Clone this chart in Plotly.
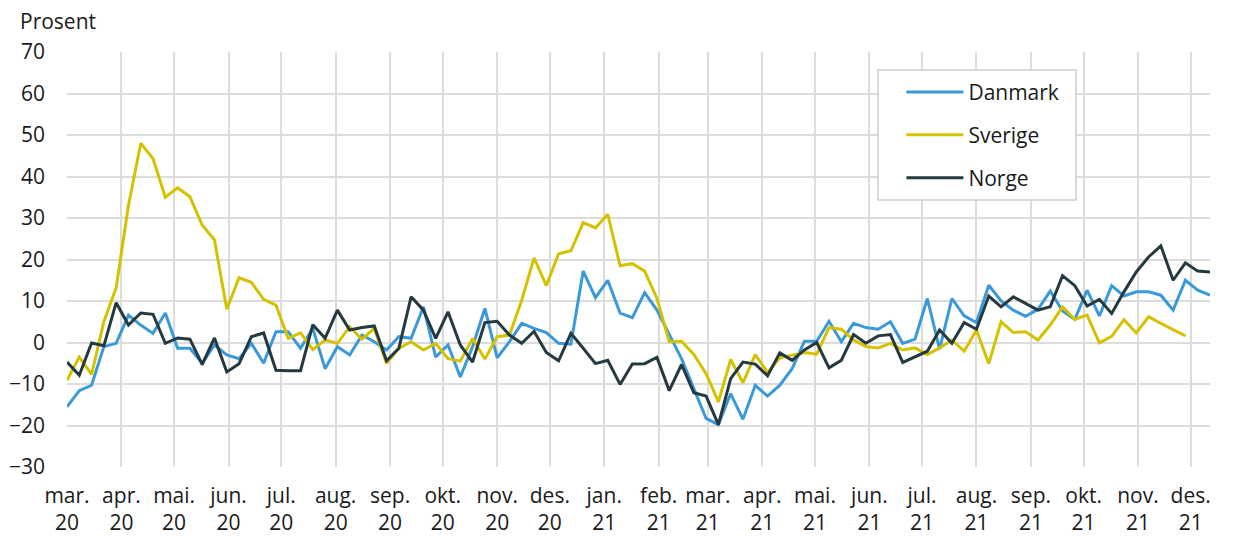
import pandas as pd
import plotly.graph_objects as go

# Weekly series, first week starting 2020-03-01
start_date = "2020-03-01"

danmark = [-15.5, -11.6, -10.3, -1, -0.2, 6.6, 4.2, 2.2, 7.1, -1.4, -1.4, -5, -0.6, -3, -3.9, -0.2,
           -5, 2.6, 2.6, -1.4, 3.4, -6.3, -1, -3, 1.8, 0.2, -1.8, 1.4, 1, 8.6, -3.5, -0.6,
           -8.3, -1, 8.2, -3.7, 0.2, 4.6, 3.4, 2.4, -0.2, -0.4, 17.2, 10.8, 15, 7.1, 6, 12, 7.8,
           1.8, -3.9, -11.1, -18.3, -19.8, -12.3, -18.5, -10.3, -12.9, -10.3, -6.3, 0.3, 0.3, 5.1,
           0.2, 4.6, 3.6, 3.2, 5, -0.2, 0.8, 10.6, -1.6, 10.6, 6.4, 4.8, 13.8, 10, 7.8, 6.3, 8,
           12.4, 7.6, 5.6, 12.6, 6.4, 13.7, 11.2, 12.2, 12.2, 11.4, 7.8, 15, 12.6, 11.4]

sverige = [-9.1, -3.5, -7.7, 5, 13.2, 33, 48, 44.3, 35, 37.3, 35.1, 28.3, 24.7, 8, 15.6, 14.5,
           10.4, 9, 1, 2.3, -1.7, 0.6, -0.2, 3.8, 0.8, 3.4, -5, -1.4, 0.2, -1.8, -0.2, -3.9,
           -4.5, 1, -4, 1.4, 1.8, 10.2, 20.4, 13.7, 21.4, 22.1, 28.9, 27.6, 30.9, 18.5, 19, 17.2,
           10.6, 0.2, 0.3, -2.9, -7.5, -14.3, -4.1, -9.7, -2.9, -7.2, -3.7, -3, -2.4, -2.8, 3.6,
           3.2, 0.6, -1, -1.3, -0.2, -1.8, -1.3, -2.9, -1.3, 0.6, -2.1, 3, -5.1, 5, 2.4, 2.6, 0.6,
           4.2, 8.6, 5.6, 6.6, -0.1, 1.5, 5.5, 2.3, 6.2, 4.6, 3.1, 1.6]

norge = [-4.7, -7.9, -0.1, -0.8, 9.6, 4.2, 7.1, 6.8, -0.2, 1.1, 0.8, -5.3, 1.1, -7.1, -5.1, 1.4,
         2.3, -6.7, -6.8, -6.8, 4.3, 1, 7.8, 3, 3.6, 4, -4.4, -1.4, 11, 7.8, 1, 7.4,
         -0.6, -4.7, 4.8, 5.1, 1.8, -0.2, 2.7, -2.4, -4.4, 2.2, -1.4, -5.1, -4.3, -10.1, -5.2,
         -5.1, -3.6, -11.6, -5.3, -12.1, -12.9, -19.8, -8.7, -4.7, -5.2, -8, -2.5, -4.3, -1.8, 0, -6.1,
         -4.3, 1.9, -0.2, 1.6, 1.9, -4.8, -3.5, -2.1, 3, -0.2, 4.8, 3.2, 11.2, 8.6, 11, 9.4, 7.8,
         8.6, 16.1, 13.7, 8.8, 10.4, 7, 12.2, 17, 20.6, 23.3, 15, 19.2, 17.2, 17]

month_names = ["mar.", "apr.", "mai.", "jun.", "jul.", "aug.", "sep.", "okt.", "nov.", "des.",
               "jan.", "feb.", "mar.", "apr.", "mai.", "jun.", "jul.", "aug.", "sep.", "okt.",
               "nov.", "des."]
month_years = ["20"] * 10 + ["21"] * 12

dates_long = pd.date_range(start=start_date, periods=len(danmark), freq="7D")
dates_se = dates_long[:len(sverige)]
tick_dates = pd.date_range(start="2020-03-01", periods=len(month_names), freq="MS")
tick_text = [f"{m}<br>{y}" for m, y in zip(month_names, month_years)]

FONT = "Open Sans, Noto Sans, sans-serif"
TXT = "#1a1a1a"
FS = 21

fig = go.Figure()
fig.add_trace(go.Scatter(x=dates_long, y=danmark, name="Danmark", mode="lines",
                         line=dict(color="#3A9AD9", width=3), legendgroup="dk"))
fig.add_trace(go.Scatter(x=dates_se, y=sverige, name="Sverige", mode="lines",
                         line=dict(color="#D4C200", width=3), legendgroup="se"))
fig.add_trace(go.Scatter(x=dates_long, y=norge, name="Norge", mode="lines",
                         line=dict(color="#243A40", width=3), legendgroup="no"))

fig.update_layout(
    width=1220, height=527,
    margin=dict(l=59, r=18, t=44, b=68, autoexpand=False),
    paper_bgcolor="white", plot_bgcolor="white",
    font=dict(family=FONT, size=FS, color=TXT),
    showlegend=True,
    legend=dict(x=0.73, y=0.952, xanchor="left", yanchor="top",
                borderwidth=0, bgcolor="rgba(0,0,0,0)",
                font=dict(size=FS, color=TXT), tracegroupgap=12.5,
                itemwidth=57),
    shapes=[dict(type="rect", xref="paper", yref="paper",
                 x0=0.7095, x1=0.8828, y0=0.6434, y1=0.9566,
                 line=dict(color="#cfcfcf", width=1.5), fillcolor="white",
                 layer="above")],
    annotations=[dict(text="Prosent", xref="paper", yref="paper",
                      x=-0.0429, y=1.0747, xanchor="left", yanchor="middle",
                      showarrow=False, font=dict(size=FS, color=TXT))],
)

fig.update_xaxes(
    range=[dates_long[0], dates_long[-1]],
    tickvals=tick_dates, ticktext=tick_text,
    showgrid=True, gridcolor="#dcdcdc", gridwidth=2,
    zeroline=False, showline=False, ticks="", ticklabelstandoff=14,
    tickfont=dict(size=FS, color=TXT), automargin=False,
)
fig.update_yaxes(
    range=[-30, 70], dtick=10, tick0=0,
    showgrid=True, gridcolor="#dcdcdc", gridwidth=2,
    zeroline=False, showline=False, ticks="", ticklabelstandoff=21,
    tickfont=dict(size=FS, color=TXT), automargin=False,
)

fig.write_html("out.html")
